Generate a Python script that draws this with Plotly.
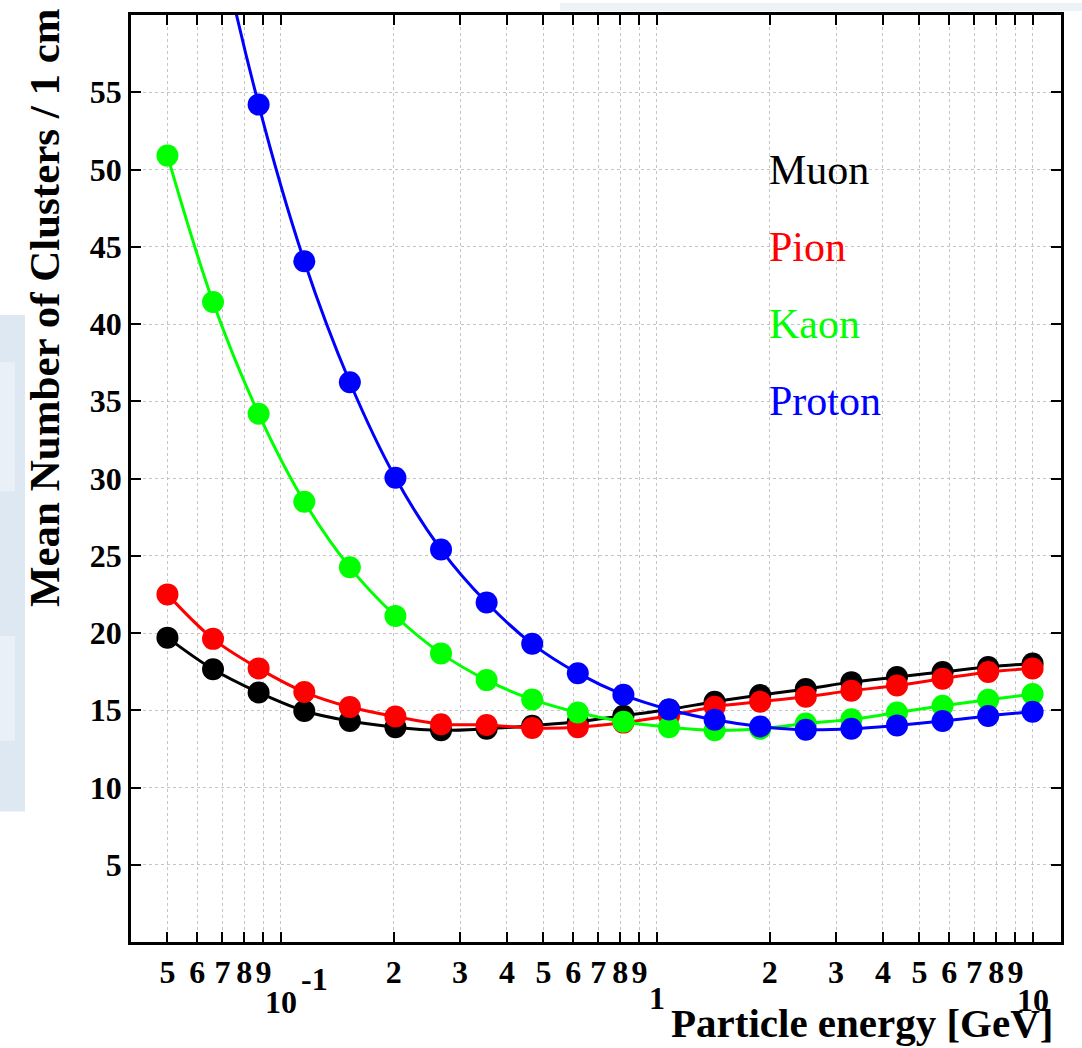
import numpy as np
import plotly.graph_objects as go

# ---- data ----
energy = [0.05, 0.0661, 0.0874, 0.1156, 0.1528, 0.2020, 0.2671, 0.3531, 0.4668, 0.6172,
          0.8160, 1.0789, 1.4264, 1.8858, 2.4932, 3.2963, 4.3581, 5.7618, 7.6177, 10.0]
muon = [19.7, 17.65, 16.15, 14.95, 14.3, 13.9, 13.7, 13.8, 14.0, 14.25,
        14.65, 15.05, 15.55, 15.98, 16.37, 16.82, 17.15, 17.48, 17.8, 18.03]
pion = [22.5, 19.62, 17.71, 16.18, 15.21, 14.59, 14.1, 14.05, 13.85, 13.9,
        14.2, 14.65, 15.23, 15.55, 15.88, 16.27, 16.6, 17.04, 17.48, 17.7]
kaon = [50.9, 41.43, 34.19, 28.5, 24.25, 21.1, 18.68, 16.95, 15.7, 14.85,
        14.25, 13.9, 13.7, 13.8, 14.14, 14.41, 14.85, 15.29, 15.68, 16.05]
proton = [84.0, 67.0, 54.2, 44.06, 36.23, 30.05, 25.4, 21.97, 19.3, 17.4,
          16.0, 15.05, 14.38, 13.95, 13.74, 13.8, 14.02, 14.3, 14.63, 14.9]

series_names = ["Muon", "Pion", "Kaon", "Proton"]
series_values = [muon, pion, kaon, proton]
series_colors = ["#000000", "#ff0000", "#00ff00", "#0000ff"]
label_y = [50, 45, 40, 35]

x_tickvals = [0.05, 0.06, 0.07, 0.08, 0.09, 0.1,
              0.2, 0.3, 0.4, 0.5, 0.6, 0.7, 0.8, 0.9, 1,
              2, 3, 4, 5, 6, 7, 8, 9, 10]
x_ticktext = ["5", "6", "7", "8", "9", "",
              "2", "3", "4", "5", "6", "7", "8", "9", "",
              "2", "3", "4", "5", "6", "7", "8", "9", ""]
y_tickvals = [5, 10, 15, 20, 25, 30, 35, 40, 45, 50, 55]

SERIF = "Liberation Serif"

# ---- layout geometry ----
W, H = 1082, 1048
L, R, T, B = 131, 21, 12, 106
PW, PH = W - L - R, H - T - B


def px_x(p):
    return (p - L) / PW


def px_y(p):
    return (H - B - p) / PH


fig = go.Figure()
for name, vals, col in zip(series_names, series_values, series_colors):
    fig.add_trace(go.Scatter(
        x=energy, y=vals, name=name, mode="lines+markers",
        line=dict(color=col, width=3, shape="spline", smoothing=1.0),
        marker=dict(color=col, size=22, line=dict(width=0)),
        showlegend=False,
    ))

annotations = []
# in-plot labels
for name, yy, col in zip(series_names, label_y, series_colors):
    annotations.append(dict(
        x=np.log10(2.0), y=yy, xref="x", yref="y", text=name, showarrow=False,
        xanchor="left", yanchor="middle", xshift=-3,
        font=dict(family=SERIF, size=42, color=col),
    ))

dec_font = dict(family=SERIF, size=32, color="black", weight="bold")
# decade labels
annotations += [
    dict(x=-1, y=0, xref="x", yref="paper", text="10", showarrow=False,
         xanchor="center", yanchor="middle", yshift=-60, font=dec_font),
    dict(x=-1, y=0, xref="x", yref="paper", text="-1", showarrow=False,
         xanchor="center", yanchor="middle", xshift=34, yshift=-37, font=dec_font),
    dict(x=0, y=0, xref="x", yref="paper", text="1", showarrow=False,
         xanchor="center", yanchor="middle", yshift=-56, font=dec_font),
]
# x title
annotations.append(dict(
    x=1, y=0, xref="paper", yref="paper", text="Particle energy [GeV]", showarrow=False,
    xanchor="right", yanchor="middle", xshift=-6, yshift=-81,
    font=dict(family=SERIF, size=41, color="black", weight="bold"),
))
annotations.append(
    dict(x=1, y=0, xref="x", yref="paper", text="10", showarrow=False,
         xanchor="center", yanchor="middle", yshift=-58, font=dec_font))
# y title
annotations.append(dict(
    x=px_x(44), y=px_y(306), xref="paper", yref="paper",
    text="Mean Number of Clusters / 1 cm", showarrow=False, textangle=-90,
    xanchor="center", yanchor="middle",
    font=dict(family=SERIF, size=43, color="black", weight="bold"),
))

# faint background watermark pieces
shapes = [
    dict(type="rect", xref="paper", yref="paper", layer="below",
         x0=px_x(0), x1=px_x(25), y0=px_y(811), y1=px_y(313),
         fillcolor="#dde8f3", line=dict(width=0)),
    dict(type="rect", xref="paper", yref="paper", layer="below",
         x0=px_x(0), x1=px_x(15), y0=px_y(490), y1=px_y(360),
         fillcolor="#e9f0f8", line=dict(width=0)),
    dict(type="rect", xref="paper", yref="paper", layer="below",
         x0=px_x(0), x1=px_x(15), y0=px_y(740), y1=px_y(635),
         fillcolor="#e9f0f8", line=dict(width=0)),
    dict(type="rect", xref="paper", yref="paper", layer="below",
         x0=px_x(560), x1=px_x(1082), y0=px_y(8), y1=px_y(0),
         fillcolor="#edf2f8", line=dict(width=0)),
]

axis_common = dict(
    showline=True, linecolor="black", linewidth=2.5, mirror="ticks",
    ticks="inside", ticklen=10, tickwidth=2, tickcolor="black",
    showgrid=True, gridcolor="#c4c4c4", griddash="dot", gridwidth=1,
    zeroline=False,
    tickfont=dict(family=SERIF, size=32, color="black", weight="bold"),
)

fig.update_layout(
    width=W, height=H,
    margin=dict(l=L, r=R, t=T, b=B),
    paper_bgcolor="white", plot_bgcolor="white",
    xaxis=dict(type="log", range=[np.log10(0.04), np.log10(11.9)],
               tickmode="array", tickvals=x_tickvals, ticktext=x_ticktext,
               **axis_common),
    yaxis=dict(range=[0, 60], tickmode="array", tickvals=y_tickvals,
               **axis_common),
    annotations=annotations,
    shapes=shapes,
)

fig.write_html("out.html")
